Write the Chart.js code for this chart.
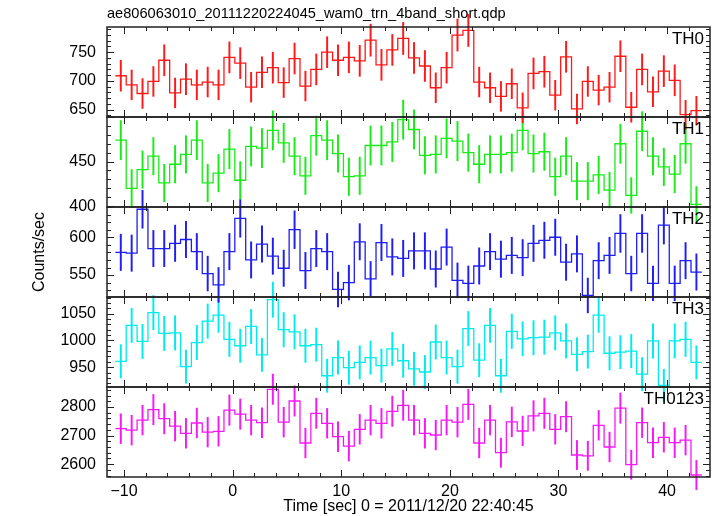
<!DOCTYPE html>
<html lang="en">
<head>
<meta charset="UTF-8">
<title>ae806063010 WAM light curve</title>
<script src="https://cdn.jsdelivr.net/npm/chart.js"></script>
<style>
  html, body { margin: 0; padding: 0; background: #fff; }
</style>
</head>
<body>
<canvas id="lc" width="717" height="516"></canvas>
<script>
// bin centres (s, relative to 2011/12/20 22:40:45), 1 s bins
const times = [-10.3, -9.3, -8.3, -7.3, -6.3, -5.3, -4.3, -3.3, -2.3, -1.3,
  -0.3, 0.7, 1.7, 2.7, 3.7, 4.7, 5.7, 6.7, 7.7, 8.7,
  9.7, 10.7, 11.7, 12.7, 13.7, 14.7, 15.7, 16.7, 17.7, 18.7,
  19.7, 20.7, 21.7, 22.7, 23.7, 24.7, 25.7, 26.7, 27.7, 28.7,
  29.7, 30.7, 31.7, 32.7, 33.7, 34.7, 35.7, 36.7, 37.7, 38.7,
  39.7, 40.7, 41.7, 42.7];

const th0 = [709, 693, 678, 699, 736, 679, 703, 693, 698, 693,
  741, 731, 689, 715, 723, 697, 739, 691, 720, 750,
  736, 741, 735, 771, 728, 754, 774, 740, 726, 688,
  723, 780, 788, 698, 688, 673, 695, 653, 713, 716,
  675, 742, 651, 699, 684, 689, 743, 654, 720, 681,
  717, 701, 641, 648];
const th0Err = [27, 26, 26, 26, 27, 26, 27, 26, 26, 26,
  27, 27, 26, 27, 27, 26, 27, 26, 27, 27,
  27, 27, 27, 28, 27, 27, 28, 27, 27, 26,
  27, 28, 28, 26, 26, 26, 26, 26, 27, 27,
  26, 27, 26, 26, 26, 26, 27, 26, 27, 26,
  27, 27, 25, 25];

const th1 = [474, 420, 441, 456, 426, 447, 458, 474, 426, 437,
  464, 429, 467, 465, 485, 471, 456, 434, 479, 474,
  459, 433, 434, 468, 468, 472, 497, 486, 457, 458,
  476, 473, 460, 447, 458, 458, 460, 485, 459, 461,
  433, 456, 428, 428, 435, 418, 470, 412, 484, 456,
  444, 436, 470, 402];
const th1Err = [22, 21, 21, 21, 21, 21, 21, 22, 21, 21,
  22, 21, 22, 22, 22, 22, 21, 21, 22, 22,
  21, 21, 21, 22, 22, 22, 22, 22, 21, 21,
  22, 22, 21, 21, 21, 21, 21, 22, 21, 21,
  21, 21, 21, 21, 21, 20, 22, 20, 22, 21,
  21, 21, 22, 20];

const th2 = [580, 579, 637, 585, 585, 592, 597, 581, 552, 537,
  581, 625, 570, 591, 575, 559, 610, 556, 585, 581,
  531, 540, 594, 545, 593, 574, 572, 582, 582, 558,
  587, 543, 539, 562, 581, 571, 576, 573, 592, 596,
  600, 567, 578, 523, 569, 576, 605, 552, 605, 539,
  616, 539, 569, 554];
const th2Err = [24, 24, 25, 24, 24, 24, 24, 24, 23, 23,
  24, 25, 24, 24, 24, 24, 25, 24, 24, 24,
  23, 23, 24, 23, 24, 24, 24, 24, 24, 24,
  24, 23, 23, 24, 24, 24, 24, 24, 24, 24,
  24, 24, 24, 23, 24, 24, 25, 23, 25, 23,
  25, 23, 24, 24];

const th3 = [961, 1028, 998, 1052, 1013, 1014, 951, 996, 1036, 1047,
  1002, 990, 1026, 973, 1076, 1020, 1016, 990, 992, 934,
  968, 949, 959, 968, 953, 984, 962, 947, 941, 997,
  968, 951, 1022, 963, 1028, 934, 1017, 1003, 1005, 1006,
  1014, 999, 974, 979, 1047, 976, 978, 980, 937, 999,
  916, 999, 1002, 959];
const th3Err = [31, 32, 32, 32, 32, 32, 31, 32, 32, 32,
  32, 31, 32, 31, 33, 32, 32, 31, 31, 31,
  31, 31, 31, 31, 31, 31, 31, 31, 31, 32,
  31, 31, 32, 31, 32, 31, 32, 32, 32, 32,
  32, 32, 31, 31, 32, 31, 31, 31, 31, 32,
  30, 32, 32, 31];

const th0123 = [2724, 2719, 2754, 2791, 2759, 2733, 2708, 2744, 2712, 2715,
  2789, 2775, 2754, 2745, 2862, 2747, 2821, 2674, 2778, 2743,
  2696, 2663, 2722, 2754, 2743, 2785, 2806, 2754, 2708, 2702,
  2754, 2747, 2809, 2674, 2754, 2640, 2748, 2716, 2769, 2778,
  2722, 2766, 2632, 2629, 2736, 2660, 2796, 2598, 2745, 2675,
  2694, 2675, 2684, 2562];
const th0123Err = [52, 52, 52, 53, 53, 52, 52, 52, 52, 52,
  53, 53, 52, 52, 53, 52, 53, 52, 53, 52,
  52, 52, 52, 52, 52, 53, 53, 52, 52, 52,
  52, 52, 53, 52, 52, 51, 52, 52, 53, 53,
  52, 53, 51, 51, 52, 52, 53, 51, 52, 52,
  52, 52, 52, 51];

const titleText = 'ae806063010_20111220224045_wam0_trn_4band_short.qdp';
const xTitle = 'Time [sec] 0 = 2011/12/20 22:40:45';
const yTitle = 'Counts/sec';

// panels, top to bottom
const panels = [
  { id: 'y0', label: 'TH0', values: th0, errors: th0Err, color: 'rgb(255,25,25)', min: 637, max: 794, step: 50, minor: 10 },
  { id: 'y1', label: 'TH1', values: th1, errors: th1Err, color: 'rgb(25,235,25)', min: 399, max: 500, step: 50, minor: 10 },
  { id: 'y2', label: 'TH2', values: th2, errors: th2Err, color: 'rgb(30,30,245)', min: 521, max: 640, step: 50, minor: 10 },
  { id: 'y3', label: 'TH3', values: th3, errors: th3Err, color: 'rgb(0,235,235)', min: 913, max: 1081, step: 50, minor: 10 },
  { id: 'y4', label: 'TH0123', values: th0123, errors: th0123Err, color: 'rgb(245,25,245)', min: 2555, max: 2870, step: 100, minor: 20 }
];

const FONT = '"Liberation Sans", Arial, sans-serif';
Chart.defaults.font.family = FONT;
Chart.defaults.font.size = 16;
Chart.defaults.color = '#000';

// labelled ticks: multiples of step strictly inside the axis range
const labelTicks = (step, lo, hi) => scale => {
  const out = [];
  for (let v = Math.ceil(lo / step) * step; v < hi; v += step) out.push({ value: v });
  scale.ticks = out;
};

const datasets = [];
panels.forEach(p => {
  // step line: one point per bin left edge, plus the last right edge
  const pts = times.map((t, i) => ({ x: t - 0.5, y: p.values[i] }));
  pts.push({ x: times[times.length - 1] + 0.5, y: p.values[p.values.length - 1] });
  datasets.push({
    type: 'line', data: pts, yAxisID: p.id,
    borderColor: p.color, borderWidth: 1.3, stepped: 'before',
    pointRadius: 0, fill: false, clip: false
  });
  datasets.push({
    type: 'bar', yAxisID: p.id,
    data: times.map((t, i) => ({ x: t, y: [p.values[i] - p.errors[i], p.values[i] + p.errors[i]] })),
    backgroundColor: p.color, barThickness: 1.3, grouped: false, clip: false
  });
});

const xMin = -11.57, xMax = 43.95;
const scales = {
  x: {
    type: 'linear', min: xMin, max: xMax, offset: false,
    grid: { display: false, drawTicks: false, offset: false }, border: { display: false },
    ticks: { autoSkip: false, maxRotation: 0, padding: 5,
      callback: v => String(v).replace('-', '\u2212') },
    afterBuildTicks: labelTicks(10, xMin, xMax),
    afterFit: s => { s.height = 39; }
  }
};
// stacked scales are laid out bottom-up, so add them in reverse
panels.slice().reverse().forEach(p => {
  scales[p.id] = {
    type: 'linear', position: 'left', stack: 'panels', stackWeight: 1,
    min: p.min, max: p.max, beginAtZero: false, offset: false,
    grid: { display: false, drawTicks: false }, border: { display: false },
    ticks: { autoSkip: false, padding: 11, callback: v => String(v) },
    afterBuildTicks: labelTicks(p.step, p.min, p.max),
    afterFit: s => { s.width = 107; }
  };
});

const qdpFrame = {
  id: 'qdpFrame',
  beforeDraw(chart) {
    const c = chart.ctx;
    c.save();
    c.fillStyle = '#fff';
    c.fillRect(0, 0, chart.width, chart.height);
    c.restore();
  },
  afterDatasetsDraw(chart) {
    const c = chart.ctx, a = chart.chartArea, xs = chart.scales.x;
    c.save();
    c.strokeStyle = '#222';
    panels.forEach(p => {
      const s = chart.scales[p.id];
      c.lineWidth = 1;
      c.beginPath();
      for (let v = -10; v <= xs.max; v += 2) {
        const px = Math.round(xs.getPixelForValue(v)) + 0.5;
        const len = v % 10 === 0 ? 7 : 4;
        c.moveTo(px, s.top); c.lineTo(px, s.top + len);
        c.moveTo(px, s.bottom); c.lineTo(px, s.bottom - len);
      }
      for (let v = Math.ceil(p.min / p.minor) * p.minor; v <= p.max; v += p.minor) {
        const py = Math.round(s.getPixelForValue(v)) + 0.5;
        const len = v % p.step === 0 ? 7 : 4;
        c.moveTo(a.left, py); c.lineTo(a.left + len, py);
        c.moveTo(a.right, py); c.lineTo(a.right - len, py);
      }
      c.stroke();
      c.lineWidth = 1.5;
      c.strokeRect(a.left, s.top, a.right - a.left, s.bottom - s.top);

      c.fillStyle = '#000';
      c.font = '17px ' + FONT;
      c.textAlign = 'right';
      c.textBaseline = 'top';
      c.fillText(p.label, a.right - 6, s.top + 4);
    });

    c.font = '14.6px ' + FONT;
    c.textAlign = 'left';
    c.textBaseline = 'alphabetic';
    c.fillText(titleText, a.left, 18);

    c.font = '16px ' + FONT;
    c.textAlign = 'center';
    c.textBaseline = 'middle';
    c.fillText(xTitle, (a.left + a.right) / 2, 507);

    c.translate(40, (a.top + a.bottom) / 2);
    c.rotate(-Math.PI / 2);
    c.fillText(yTitle, 0, 0);
    c.restore();
  }
};

new Chart(document.getElementById('lc'), {
  type: 'line',
  data: { datasets },
  options: {
    responsive: false,
    animation: false,
    devicePixelRatio: 1,
    layout: { padding: { top: 27, right: 7, left: 0, bottom: 0 } },
    plugins: { legend: { display: false }, tooltip: { enabled: false } },
    scales
  },
  plugins: [qdpFrame]
});
</script>
</body>
</html>
